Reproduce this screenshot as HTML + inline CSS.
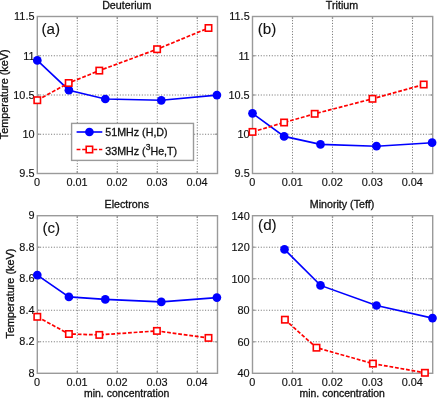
<!DOCTYPE html>
<html><head><meta charset="utf-8"><style>
html,body{margin:0;padding:0;background:#fff;}
body{width:438px;height:399px;overflow:hidden;}
svg{display:block;font-family:"Liberation Sans",sans-serif;will-change:transform;}
text{fill:#111;stroke:#111;stroke-width:0.3px;}
.tk{stroke-width:0.15px;}
.g{stroke:#7a7a7a;stroke-width:1;stroke-dasharray:1.1 1.65;fill:none;}
.ax{stroke:#9a9a9a;stroke-width:1.4;}
.bl{stroke:#0000ff;stroke-width:1.6;fill:none;}
.rl{stroke:#ff0000;stroke-width:1.7;fill:none;stroke-dasharray:3.8 1.8;}
.rm{stroke:#ff0000;stroke-width:1.6;fill:#fff;}
</style></head><body>
<svg width="438" height="399" viewBox="0 0 438 399">
<rect width="438" height="399" fill="#fff"/>
<line x1="77.30" y1="16.50" x2="77.30" y2="173.50" class="g" stroke-dashoffset="1.85"/>
<line x1="117.30" y1="16.50" x2="117.30" y2="173.50" class="g" stroke-dashoffset="1.85"/>
<line x1="157.30" y1="16.50" x2="157.30" y2="173.50" class="g" stroke-dashoffset="1.85"/>
<line x1="197.30" y1="16.50" x2="197.30" y2="173.50" class="g" stroke-dashoffset="1.85"/>
<line x1="37.30" y1="134.25" x2="217.50" y2="134.25" class="g"/>
<line x1="37.30" y1="95.00" x2="217.50" y2="95.00" class="g"/>
<line x1="37.30" y1="55.75" x2="217.50" y2="55.75" class="g"/>
<line x1="77.30" y1="173.50" x2="77.30" y2="171.10" class="ax"/>
<line x1="77.30" y1="16.50" x2="77.30" y2="18.90" class="ax"/>
<line x1="117.30" y1="173.50" x2="117.30" y2="171.10" class="ax"/>
<line x1="117.30" y1="16.50" x2="117.30" y2="18.90" class="ax"/>
<line x1="157.30" y1="173.50" x2="157.30" y2="171.10" class="ax"/>
<line x1="157.30" y1="16.50" x2="157.30" y2="18.90" class="ax"/>
<line x1="197.30" y1="173.50" x2="197.30" y2="171.10" class="ax"/>
<line x1="197.30" y1="16.50" x2="197.30" y2="18.90" class="ax"/>
<line x1="37.30" y1="134.25" x2="39.70" y2="134.25" class="ax"/>
<line x1="217.50" y1="134.25" x2="215.10" y2="134.25" class="ax"/>
<line x1="37.30" y1="95.00" x2="39.70" y2="95.00" class="ax"/>
<line x1="217.50" y1="95.00" x2="215.10" y2="95.00" class="ax"/>
<line x1="37.30" y1="55.75" x2="39.70" y2="55.75" class="ax"/>
<line x1="217.50" y1="55.75" x2="215.10" y2="55.75" class="ax"/>
<rect x="37.30" y="16.50" width="180.20" height="157.00" class="ax" fill="none"/>
<text x="34.50" y="177.40" text-anchor="end" font-size="10.9" class="tk">9.5</text>
<text x="34.50" y="138.15" text-anchor="end" font-size="10.9" class="tk">10</text>
<text x="34.50" y="98.90" text-anchor="end" font-size="10.9" class="tk">10.5</text>
<text x="34.50" y="59.65" text-anchor="end" font-size="10.9" class="tk">11</text>
<text x="34.50" y="20.40" text-anchor="end" font-size="10.9" class="tk">11.5</text>
<text x="37.10" y="185.90" text-anchor="middle" font-size="10.9" class="tk">0</text>
<text x="77.10" y="185.90" text-anchor="middle" font-size="10.9" class="tk">0.01</text>
<text x="117.10" y="185.90" text-anchor="middle" font-size="10.9" class="tk">0.02</text>
<text x="157.10" y="185.90" text-anchor="middle" font-size="10.9" class="tk">0.03</text>
<text x="197.10" y="185.90" text-anchor="middle" font-size="10.9" class="tk">0.04</text>
<text x="126.80" y="8.80" text-anchor="middle" font-size="10.7" >Deuterium</text>
<text x="41.40" y="34.20" text-anchor="start" font-size="15.2" style="stroke-width:0.1px">(a)</text>
<polyline points="37.30,60.40 68.90,90.20 105.30,99.00 161.30,100.30 216.90,95.10" class="bl"/>
<circle cx="37.30" cy="60.40" r="4.35" fill="#0000ff"/>
<circle cx="68.90" cy="90.20" r="4.35" fill="#0000ff"/>
<circle cx="105.30" cy="99.00" r="4.35" fill="#0000ff"/>
<circle cx="161.30" cy="100.30" r="4.35" fill="#0000ff"/>
<circle cx="216.90" cy="95.10" r="4.35" fill="#0000ff"/>
<polyline points="37.30,100.20 68.70,83.00 99.30,70.60 157.10,49.20 208.50,28.00" class="rl"/>
<rect x="34.10" y="97.00" width="6.4" height="6.4" class="rm"/>
<rect x="65.50" y="79.80" width="6.4" height="6.4" class="rm"/>
<rect x="96.10" y="67.40" width="6.4" height="6.4" class="rm"/>
<rect x="153.90" y="46.00" width="6.4" height="6.4" class="rm"/>
<rect x="205.30" y="24.80" width="6.4" height="6.4" class="rm"/>
<line x1="292.50" y1="16.50" x2="292.50" y2="173.50" class="g" stroke-dashoffset="1.85"/>
<line x1="332.50" y1="16.50" x2="332.50" y2="173.50" class="g" stroke-dashoffset="1.85"/>
<line x1="372.50" y1="16.50" x2="372.50" y2="173.50" class="g" stroke-dashoffset="1.85"/>
<line x1="412.50" y1="16.50" x2="412.50" y2="173.50" class="g" stroke-dashoffset="1.85"/>
<line x1="252.50" y1="134.25" x2="432.70" y2="134.25" class="g"/>
<line x1="252.50" y1="95.00" x2="432.70" y2="95.00" class="g"/>
<line x1="252.50" y1="55.75" x2="432.70" y2="55.75" class="g"/>
<line x1="292.50" y1="173.50" x2="292.50" y2="171.10" class="ax"/>
<line x1="292.50" y1="16.50" x2="292.50" y2="18.90" class="ax"/>
<line x1="332.50" y1="173.50" x2="332.50" y2="171.10" class="ax"/>
<line x1="332.50" y1="16.50" x2="332.50" y2="18.90" class="ax"/>
<line x1="372.50" y1="173.50" x2="372.50" y2="171.10" class="ax"/>
<line x1="372.50" y1="16.50" x2="372.50" y2="18.90" class="ax"/>
<line x1="412.50" y1="173.50" x2="412.50" y2="171.10" class="ax"/>
<line x1="412.50" y1="16.50" x2="412.50" y2="18.90" class="ax"/>
<line x1="252.50" y1="134.25" x2="254.90" y2="134.25" class="ax"/>
<line x1="432.70" y1="134.25" x2="430.30" y2="134.25" class="ax"/>
<line x1="252.50" y1="95.00" x2="254.90" y2="95.00" class="ax"/>
<line x1="432.70" y1="95.00" x2="430.30" y2="95.00" class="ax"/>
<line x1="252.50" y1="55.75" x2="254.90" y2="55.75" class="ax"/>
<line x1="432.70" y1="55.75" x2="430.30" y2="55.75" class="ax"/>
<rect x="252.50" y="16.50" width="180.20" height="157.00" class="ax" fill="none"/>
<text x="249.70" y="177.40" text-anchor="end" font-size="10.9" class="tk">9.5</text>
<text x="249.70" y="138.15" text-anchor="end" font-size="10.9" class="tk">10</text>
<text x="249.70" y="98.90" text-anchor="end" font-size="10.9" class="tk">10.5</text>
<text x="249.70" y="59.65" text-anchor="end" font-size="10.9" class="tk">11</text>
<text x="249.70" y="20.40" text-anchor="end" font-size="10.9" class="tk">11.5</text>
<text x="252.30" y="185.90" text-anchor="middle" font-size="10.9" class="tk">0</text>
<text x="292.30" y="185.90" text-anchor="middle" font-size="10.9" class="tk">0.01</text>
<text x="332.30" y="185.90" text-anchor="middle" font-size="10.9" class="tk">0.02</text>
<text x="372.30" y="185.90" text-anchor="middle" font-size="10.9" class="tk">0.03</text>
<text x="412.30" y="185.90" text-anchor="middle" font-size="10.9" class="tk">0.04</text>
<text x="342.00" y="8.80" text-anchor="middle" font-size="10.7" >Tritium</text>
<text x="257.80" y="33.50" text-anchor="start" font-size="15.2" style="stroke-width:0.1px">(b)</text>
<polyline points="252.50,113.30 284.10,136.40 320.50,144.40 376.50,146.20 432.10,142.70" class="bl"/>
<circle cx="252.50" cy="113.30" r="4.35" fill="#0000ff"/>
<circle cx="284.10" cy="136.40" r="4.35" fill="#0000ff"/>
<circle cx="320.50" cy="144.40" r="4.35" fill="#0000ff"/>
<circle cx="376.50" cy="146.20" r="4.35" fill="#0000ff"/>
<circle cx="432.10" cy="142.70" r="4.35" fill="#0000ff"/>
<polyline points="252.50,131.90 284.10,122.50 314.70,113.80 372.50,98.80 423.70,84.50" class="rl"/>
<rect x="249.30" y="128.70" width="6.4" height="6.4" class="rm"/>
<rect x="280.90" y="119.30" width="6.4" height="6.4" class="rm"/>
<rect x="311.50" y="110.60" width="6.4" height="6.4" class="rm"/>
<rect x="369.30" y="95.60" width="6.4" height="6.4" class="rm"/>
<rect x="420.50" y="81.30" width="6.4" height="6.4" class="rm"/>
<line x1="77.30" y1="215.70" x2="77.30" y2="373.30" class="g" stroke-dashoffset="1.85"/>
<line x1="117.30" y1="215.70" x2="117.30" y2="373.30" class="g" stroke-dashoffset="1.85"/>
<line x1="157.30" y1="215.70" x2="157.30" y2="373.30" class="g" stroke-dashoffset="1.85"/>
<line x1="197.30" y1="215.70" x2="197.30" y2="373.30" class="g" stroke-dashoffset="1.85"/>
<line x1="37.30" y1="341.78" x2="217.50" y2="341.78" class="g"/>
<line x1="37.30" y1="310.26" x2="217.50" y2="310.26" class="g"/>
<line x1="37.30" y1="278.74" x2="217.50" y2="278.74" class="g"/>
<line x1="37.30" y1="247.22" x2="217.50" y2="247.22" class="g"/>
<line x1="77.30" y1="373.30" x2="77.30" y2="370.90" class="ax"/>
<line x1="77.30" y1="215.70" x2="77.30" y2="218.10" class="ax"/>
<line x1="117.30" y1="373.30" x2="117.30" y2="370.90" class="ax"/>
<line x1="117.30" y1="215.70" x2="117.30" y2="218.10" class="ax"/>
<line x1="157.30" y1="373.30" x2="157.30" y2="370.90" class="ax"/>
<line x1="157.30" y1="215.70" x2="157.30" y2="218.10" class="ax"/>
<line x1="197.30" y1="373.30" x2="197.30" y2="370.90" class="ax"/>
<line x1="197.30" y1="215.70" x2="197.30" y2="218.10" class="ax"/>
<line x1="37.30" y1="341.78" x2="39.70" y2="341.78" class="ax"/>
<line x1="217.50" y1="341.78" x2="215.10" y2="341.78" class="ax"/>
<line x1="37.30" y1="310.26" x2="39.70" y2="310.26" class="ax"/>
<line x1="217.50" y1="310.26" x2="215.10" y2="310.26" class="ax"/>
<line x1="37.30" y1="278.74" x2="39.70" y2="278.74" class="ax"/>
<line x1="217.50" y1="278.74" x2="215.10" y2="278.74" class="ax"/>
<line x1="37.30" y1="247.22" x2="39.70" y2="247.22" class="ax"/>
<line x1="217.50" y1="247.22" x2="215.10" y2="247.22" class="ax"/>
<rect x="37.30" y="215.70" width="180.20" height="157.60" class="ax" fill="none"/>
<text x="34.50" y="376.90" text-anchor="end" font-size="10.9" class="tk">8</text>
<text x="34.50" y="345.38" text-anchor="end" font-size="10.9" class="tk">8.2</text>
<text x="34.50" y="313.86" text-anchor="end" font-size="10.9" class="tk">8.4</text>
<text x="34.50" y="282.34" text-anchor="end" font-size="10.9" class="tk">8.6</text>
<text x="34.50" y="250.82" text-anchor="end" font-size="10.9" class="tk">8.8</text>
<text x="34.50" y="219.30" text-anchor="end" font-size="10.9" class="tk">9</text>
<text x="37.10" y="385.70" text-anchor="middle" font-size="10.9" class="tk">0</text>
<text x="77.10" y="385.70" text-anchor="middle" font-size="10.9" class="tk">0.01</text>
<text x="117.10" y="385.70" text-anchor="middle" font-size="10.9" class="tk">0.02</text>
<text x="157.10" y="385.70" text-anchor="middle" font-size="10.9" class="tk">0.03</text>
<text x="197.10" y="385.70" text-anchor="middle" font-size="10.9" class="tk">0.04</text>
<text x="126.80" y="208.40" text-anchor="middle" font-size="10.7" >Electrons</text>
<text x="42.40" y="232.80" text-anchor="start" font-size="15.2" style="stroke-width:0.1px">(c)</text>
<polyline points="37.30,275.10 68.90,296.90 105.30,299.40 161.30,301.90 216.90,297.60" class="bl"/>
<circle cx="37.30" cy="275.10" r="4.35" fill="#0000ff"/>
<circle cx="68.90" cy="296.90" r="4.35" fill="#0000ff"/>
<circle cx="105.30" cy="299.40" r="4.35" fill="#0000ff"/>
<circle cx="161.30" cy="301.90" r="4.35" fill="#0000ff"/>
<circle cx="216.90" cy="297.60" r="4.35" fill="#0000ff"/>
<polyline points="37.30,316.80 68.90,334.00 99.30,334.90 156.90,330.90 208.50,337.90" class="rl"/>
<rect x="34.10" y="313.60" width="6.4" height="6.4" class="rm"/>
<rect x="65.70" y="330.80" width="6.4" height="6.4" class="rm"/>
<rect x="96.10" y="331.70" width="6.4" height="6.4" class="rm"/>
<rect x="153.70" y="327.70" width="6.4" height="6.4" class="rm"/>
<rect x="205.30" y="334.70" width="6.4" height="6.4" class="rm"/>
<line x1="292.50" y1="215.70" x2="292.50" y2="373.30" class="g" stroke-dashoffset="1.85"/>
<line x1="332.50" y1="215.70" x2="332.50" y2="373.30" class="g" stroke-dashoffset="1.85"/>
<line x1="372.50" y1="215.70" x2="372.50" y2="373.30" class="g" stroke-dashoffset="1.85"/>
<line x1="412.50" y1="215.70" x2="412.50" y2="373.30" class="g" stroke-dashoffset="1.85"/>
<line x1="252.50" y1="341.78" x2="432.70" y2="341.78" class="g"/>
<line x1="252.50" y1="310.26" x2="432.70" y2="310.26" class="g"/>
<line x1="252.50" y1="278.74" x2="432.70" y2="278.74" class="g"/>
<line x1="252.50" y1="247.22" x2="432.70" y2="247.22" class="g"/>
<line x1="292.50" y1="373.30" x2="292.50" y2="370.90" class="ax"/>
<line x1="292.50" y1="215.70" x2="292.50" y2="218.10" class="ax"/>
<line x1="332.50" y1="373.30" x2="332.50" y2="370.90" class="ax"/>
<line x1="332.50" y1="215.70" x2="332.50" y2="218.10" class="ax"/>
<line x1="372.50" y1="373.30" x2="372.50" y2="370.90" class="ax"/>
<line x1="372.50" y1="215.70" x2="372.50" y2="218.10" class="ax"/>
<line x1="412.50" y1="373.30" x2="412.50" y2="370.90" class="ax"/>
<line x1="412.50" y1="215.70" x2="412.50" y2="218.10" class="ax"/>
<line x1="252.50" y1="341.78" x2="254.90" y2="341.78" class="ax"/>
<line x1="432.70" y1="341.78" x2="430.30" y2="341.78" class="ax"/>
<line x1="252.50" y1="310.26" x2="254.90" y2="310.26" class="ax"/>
<line x1="432.70" y1="310.26" x2="430.30" y2="310.26" class="ax"/>
<line x1="252.50" y1="278.74" x2="254.90" y2="278.74" class="ax"/>
<line x1="432.70" y1="278.74" x2="430.30" y2="278.74" class="ax"/>
<line x1="252.50" y1="247.22" x2="254.90" y2="247.22" class="ax"/>
<line x1="432.70" y1="247.22" x2="430.30" y2="247.22" class="ax"/>
<rect x="252.50" y="215.70" width="180.20" height="157.60" class="ax" fill="none"/>
<text x="249.70" y="377.20" text-anchor="end" font-size="10.9" class="tk">40</text>
<text x="249.70" y="345.68" text-anchor="end" font-size="10.9" class="tk">60</text>
<text x="249.70" y="314.16" text-anchor="end" font-size="10.9" class="tk">80</text>
<text x="249.70" y="282.64" text-anchor="end" font-size="10.9" class="tk">100</text>
<text x="249.70" y="251.12" text-anchor="end" font-size="10.9" class="tk">120</text>
<text x="249.70" y="219.60" text-anchor="end" font-size="10.9" class="tk">140</text>
<text x="252.30" y="385.70" text-anchor="middle" font-size="10.9" class="tk">0</text>
<text x="292.30" y="385.70" text-anchor="middle" font-size="10.9" class="tk">0.01</text>
<text x="332.30" y="385.70" text-anchor="middle" font-size="10.9" class="tk">0.02</text>
<text x="372.30" y="385.70" text-anchor="middle" font-size="10.9" class="tk">0.03</text>
<text x="412.30" y="385.70" text-anchor="middle" font-size="10.9" class="tk">0.04</text>
<text x="342.00" y="208.40" text-anchor="middle" font-size="10.7" >Minority (Teff)</text>
<text x="258.10" y="230.10" text-anchor="start" font-size="15.2" style="stroke-width:0.1px">(d)</text>
<polyline points="284.50,249.40 320.50,285.40 376.50,305.50 432.50,318.10" class="bl"/>
<circle cx="284.50" cy="249.40" r="4.35" fill="#0000ff"/>
<circle cx="320.50" cy="285.40" r="4.35" fill="#0000ff"/>
<circle cx="376.50" cy="305.50" r="4.35" fill="#0000ff"/>
<circle cx="432.50" cy="318.10" r="4.35" fill="#0000ff"/>
<polyline points="284.90,319.70 316.50,347.70 372.90,363.60 424.90,372.80" class="rl"/>
<rect x="281.70" y="316.50" width="6.4" height="6.4" class="rm"/>
<rect x="313.30" y="344.50" width="6.4" height="6.4" class="rm"/>
<rect x="369.70" y="360.40" width="6.4" height="6.4" class="rm"/>
<rect x="421.70" y="369.60" width="6.4" height="6.4" class="rm"/>
<text x="126.70" y="397.00" text-anchor="middle" font-size="10.45" >min. concentration</text>
<text x="342.20" y="397.00" text-anchor="middle" font-size="10.45" >min. concentration</text>
<text x="0" y="0" transform="translate(8.4,94.3) rotate(-90)" text-anchor="middle" font-size="10.85">Temperature (keV)</text>
<text x="0" y="0" transform="translate(14.0,293.6) rotate(-90)" text-anchor="middle" font-size="10.85">Temperature (keV)</text>
<rect x="71.6" y="123.4" width="121.9" height="37" fill="#fff" class="ax"/>
<line x1="76.6" y1="132" x2="102.3" y2="132" class="bl"/>
<circle cx="89.4" cy="132" r="4.35" fill="#0000ff"/>
<line x1="76.6" y1="149.5" x2="102.3" y2="149.5" class="rl"/>
<rect x="86.2" y="146.3" width="6.4" height="6.4" class="rm"/>
<text x="105.30" y="136.40" text-anchor="start" font-size="10.7" >51MHz (H,D)</text>
<text x="105.30" y="154.60" text-anchor="start" font-size="10.7" >33MHz (<tspan font-size="8.5" dy="-4.6">3</tspan><tspan dy="4.6">He,T)</tspan></text>
</svg>
</body></html>
